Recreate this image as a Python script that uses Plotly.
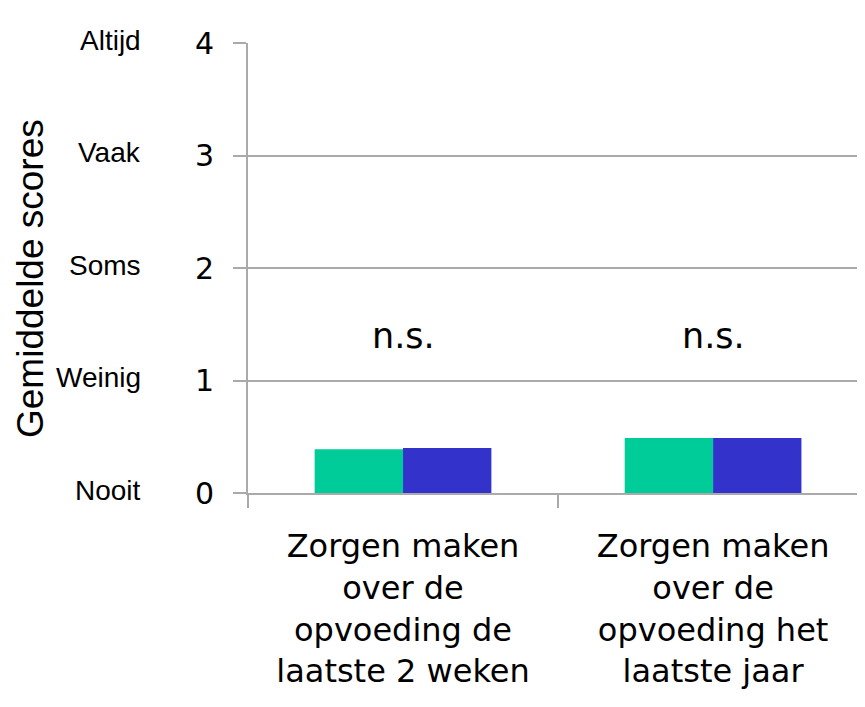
import plotly.graph_objects as go

categories = ["Zorgen maken<br>over de<br>opvoeding de<br>laatste 2 weken",
              "Zorgen maken<br>over de<br>opvoeding het<br>laatste jaar"]
group_a = [0.39, 0.49]
group_b = [0.40, 0.49]
scale_values = [0, 1, 2, 3, 4]
scale_labels = ["Nooit", "Weinig", "Soms", "Vaak", "Altijd"]
sig_labels = ["n.s.", "n.s."]
sig_y = 1.4
y_title = "Gemiddelde scores"

GREEN = "#00CC99"
BLUE = "#3333CC"
GRID = "#AAAAAA"

OFF = 8  # default page body margin
W, H = 865 - OFF, 707 - OFF
L = 248 - OFF
T = 43 - OFF
B = H - (493 - OFF)
plot_w = W - L
plot_h = H - T - B


def px_x(p):  # window pixel -> paper
    return (p - OFF - L) / plot_w


def px_y(p):
    return (H - B - (p - OFF)) / plot_h


fig = go.Figure()
fig.add_trace(go.Bar(x=categories, y=group_a, marker=dict(color=GREEN, line=dict(width=0)),
                     showlegend=False, hoverinfo="skip"))
fig.add_trace(go.Bar(x=categories, y=group_b, marker=dict(color=BLUE, line=dict(width=0)),
                     showlegend=False, hoverinfo="skip"))

for cat, lab in zip(categories, sig_labels):
    fig.add_annotation(x=cat, y=sig_y, text=lab, showarrow=False, xref="x", yref="y",
                       yanchor="middle",
                       font=dict(family="DejaVu Sans", size=35, color="black"))

for v, lab in zip(scale_values, scale_labels):
    fig.add_annotation(x=px_x(143), y=v, xref="paper", yref="y", text=lab, showarrow=False,
                       xanchor="right", yanchor="middle", yshift=3,
                       font=dict(family="Liberation Sans, Arial", size=28, color="black"))

fig.add_annotation(x=px_x(30), y=px_y(279), xref="paper", yref="paper", text=y_title,
                   textangle=-90, showarrow=False, xanchor="center", yanchor="middle",
                   font=dict(family="Liberation Sans, Arial", size=37, color="black"))

fig.update_layout(
    template="none",
    width=W, height=H,
    margin=dict(l=L, r=0, t=T, b=B, pad=0, autoexpand=False),
    paper_bgcolor="white", plot_bgcolor="white",
    barmode="group", bargap=0.43, bargroupgap=0,
    xaxis=dict(type="category", range=[-0.5, 1.49], tickson="boundaries",
               ticks="outside", ticklen=13, tickcolor=GRID, tickwidth=2,
               showline=True, linecolor=GRID, linewidth=2, showgrid=False,
               automargin=False, ticklabelstandoff=24,
               tickfont=dict(family="DejaVu Sans", size=32, color="black"),
               fixedrange=True),
    yaxis=dict(range=[0, 4], tickvals=scale_values, ticktext=[str(v) for v in scale_values],
               ticks="outside", ticklen=13, tickcolor=GRID, tickwidth=2,
               showline=True, linecolor=GRID, linewidth=2,
               showgrid=True, gridcolor=GRID, gridwidth=2, zeroline=False,
               automargin=False, ticklabelstandoff=13,
               tickfont=dict(family="DejaVu Sans", size=30, color="black"),
               fixedrange=True),
)

fig.write_html("out.html")
